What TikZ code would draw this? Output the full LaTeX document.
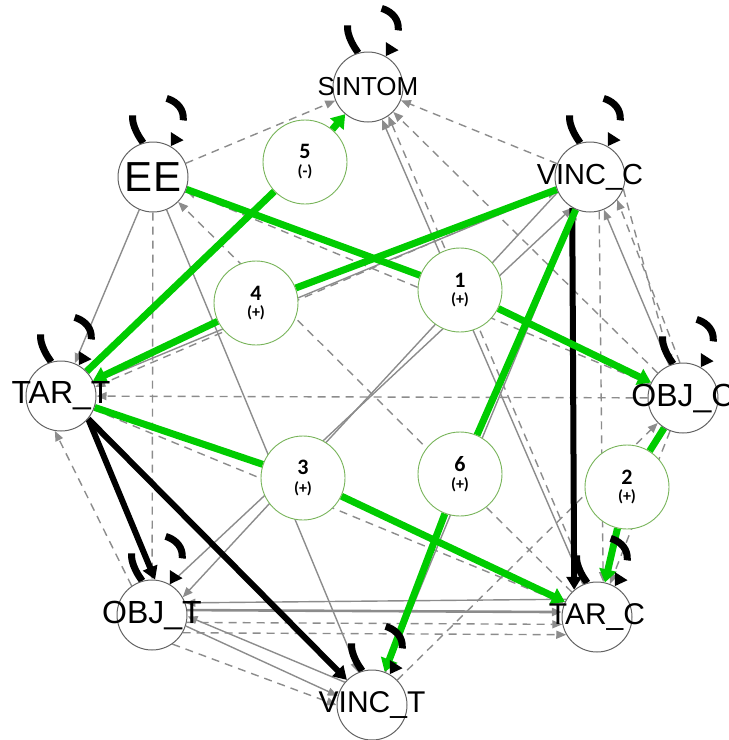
\documentclass[tikz,border=0pt]{standalone}
\usepackage{fontspec}
\setmainfont{Liberation Sans}
\newfontfamily\numfont{Carlito}
\usetikzlibrary{arrows.meta}
\pgfdeclarelayer{edgelayer}
\pgfsetlayers{edgelayer,main}
\definecolor{edgegreen}{RGB}{0,204,0}
\definecolor{ringgreen}{RGB}{120,180,90}
\definecolor{edgegray}{RGB}{140,140,140}
\definecolor{ringgray}{RGB}{100,100,100}
\newcommand{\numlbl}[2]{{\fontsize{22}{22}\selectfont #1}\\[5pt]{\fontsize{16}{16}\selectfont #2}}
\begin{document}
\begin{tikzpicture}[x=1pt,y=-1pt,
  mainnode/.style={circle,draw=ringgray,line width=1pt,fill=white,minimum size=70pt,inner sep=0pt},
  lbl/.style={inner sep=0pt},
  numnode/.style={circle,draw=ringgreen,line width=0.9pt,fill=white,minimum size=84pt,inner sep=0pt,align=center,font=\numfont\bfseries},
  gline/.style={draw=edgegreen,line width=7pt},
  garrow/.style={gline,-{Triangle[length=13pt,width=17pt]}},
  bline/.style={draw=black,line width=6pt,-{Triangle[length=13pt,width=15pt]}},
  sg/.style={draw=edgegray,line width=1.4pt,-{Triangle[length=10pt,width=8pt]}},
  dg/.style={sg,dash pattern=on 8pt off 6pt},
  selfloop/.style={draw=black,line width=7pt,dash pattern=on 30pt off 44pt on 30pt off 100pt,-{Triangle[length=12pt,width=14pt]}}
]
\useasboundingbox (0,0) rectangle (729,740);
% main nodes
\node[mainnode,label={[lbl,font=\fontsize{26}{26}\selectfont]center:SINTOM}] (S) at (368,87) {};
\node[mainnode,label={[lbl,font=\fontsize{42}{42}\selectfont]center:EE}] (EE) at (153,177) {};
\node[mainnode,label={[lbl,font=\fontsize{29}{29}\selectfont]center:VINC\_C}] (VC) at (590,177) {};
\node[mainnode,label={[lbl,font=\fontsize{32}{32}\selectfont]center:TAR\_T}] (TT) at (61,396) {};
\node[mainnode,label={[lbl,font=\fontsize{32}{32}\selectfont]center:OBJ\_C}] (OC) at (683,398) {};
\node[mainnode,label={[lbl,font=\fontsize{32}{32}\selectfont]center:OBJ\_T}] (OT) at (152,615) {};
\node[mainnode,label={[lbl,font=\fontsize{30}{30}\selectfont]center:TAR\_C}] (TC) at (597,617) {};
\node[mainnode,label={[lbl,font=\fontsize{30}{30}\selectfont]center:VINC\_T}] (VT) at (372,705) {};
% numbered nodes
\node[numnode] (n5) at (305,162) {\numlbl{5}{(-)}};
\node[numnode] (n4) at (256,303) {\numlbl{4}{(+)}};
\node[numnode] (n1) at (460,290) {\numlbl{1}{(+)}};
\node[numnode] (n3) at (303,478) {\numlbl{3}{(+)}};
\node[numnode] (n6) at (460,474) {\numlbl{6}{(+)}};
\node[numnode] (n2) at (627,487) {\numlbl{2}{(+)}};

\begin{pgfonlayer}{edgelayer}
% gray solid edges
\draw[sg] (EE) -- (TT);
\draw[sg] (EE) -- (VT);
\draw[sg] (TC) -- (S);
\draw[sg] (TT) -- (VC);
\draw[sg] (VC.205) -- (OT.30);
\draw[sg] (OT.60) -- (VC.240);
\draw[sg] (VT) -- (VC);
\draw[sg] (OC) -- (VC);
\draw[sg] (TC.150) -- (OT.20);
\draw[sg,line width=2.6pt] (OT.8) -- (TC.172);
\draw[sg] (OT.-18) -- (VT.165);
\draw[sg] (VT.140) -- (OT.-2);
% gray dashed edges
\draw[dg] (EE) -- (S);
\draw[dg] (OC) -- (EE);
\draw[dg] (TC) -- (EE);
\draw[dg] (EE) -- (OT);
\draw[dg] (OC) -- (S);
\draw[dg] (VC) -- (S);
\draw[dg] (TC.105) -- (S.-55);
\draw[dg] (VC.200) -- (TT.15);
\draw[dg] (OC) -- (TT);
\draw[dg] (OT.125) -- (TT.260);
\draw[dg] (TT) -- (TC);
\draw[dg] (OT.-12) -- (TC.192);
\draw[dg] (OT.-30) -- (TC.210);
\draw[dg] (OT.-55) -- (VT.180);
\draw[dg] (VC.-20) -- (OC.110);
\draw[dg] (OC.95) -- (VC.-40);
\draw[dg] (OC) -- (TC);
\draw[dg] (VC.-75) -- (TC.80);
\draw[dg] (VT) -- (OC);
% black edges
\draw[bline] (VC.240) -- (TC.130);
\draw[bline] (TT.-40) -- (OT.85);
\draw[bline] (TT.-40) -- (VT.135);
% green edges
\draw[gline] (TT) -- (n5); \draw[garrow] (n5) -- (S);
\draw[gline] (VC) -- (n4); \draw[garrow] (n4) -- (TT);
\draw[gline] (EE) -- (n1); \draw[garrow] (n1) -- (OC);
\draw[gline] (TT) -- (n3); \draw[garrow] (n3) -- (TC);
\draw[gline] (VC) -- (n6); \draw[garrow] (n6) -- (VT);
\draw[gline] (OC) -- (n2); \draw[garrow] (n2) -- (TC);
% self loops
\foreach \n in {S,EE,VC,TT,OC,OT,TC,VT}{
  \draw[selfloop] (\n.106) .. controls +(-45,-62) and +(40,-62) .. (\n.60);
}
\end{pgfonlayer}
\end{tikzpicture}
\end{document}
